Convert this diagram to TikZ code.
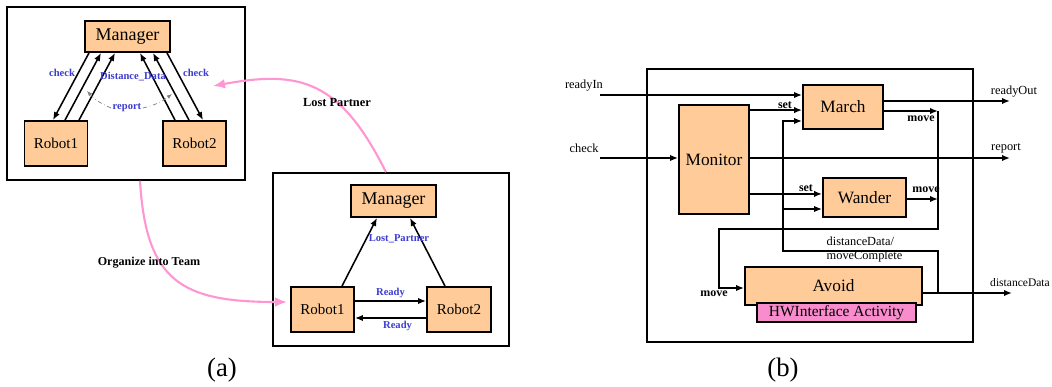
\documentclass[tikz,border=0pt]{standalone}
\usepackage{fontspec}
\setmainfont{Liberation Serif}
\usetikzlibrary{arrows.meta,calc}

\definecolor{peach}{RGB}{255,204,153}
\definecolor{hwpink}{RGB}{248,140,204}
\definecolor{flow}{RGB}{255,150,210}
\definecolor{tagblue}{RGB}{60,60,210}

\begin{document}
\begin{tikzpicture}[
  x=0.025cm, y=-0.025cm,
  box/.style={draw, line width=1.3pt, fill=peach, inner sep=0pt,
    font=\fontsize{12.3}{14}\selectfont},
  robot/.style={box, minimum width=1.575cm, minimum height=1.125cm,
    font=\fontsize{10.7}{12}\selectfont},
  panel/.style={draw, line width=1.1pt, inner sep=0pt},
  tag/.style={font=\bfseries\fontsize{7.5}{9}\selectfont, text=tagblue, inner sep=1pt},
  lbl/.style={font=\fontsize{8.8}{9.6}\selectfont, inner sep=1pt},
  blbl/.style={font=\bfseries\fontsize{8.5}{9.6}\selectfont, inner sep=1pt},
  sig/.style={line width=1.1pt, -{Latex[length=2mm,width=1.6mm]}},
  report/.style={draw=gray, dash dot, line width=0.5pt, -{Latex[length=1.3mm,width=1mm]}},
  pinkarrow/.style={draw=flow, line width=1.5pt, -{Latex[length=3mm,width=2.4mm]}},
]
  \useasboundingbox (0,0) rectangle (1052,387);

  % (a) team before and after a lost partner
  \node[panel, minimum width=5.95cm, minimum height=4.325cm] (teamA) at (126,93.5) {};
  \node[box, minimum width=2.125cm, minimum height=0.775cm,
    font=\fontsize{12.8}{14}\selectfont] (mgrA) at (127.5,36.5) {Manager};
  \node[robot] (rob1A) at (56,143.5) {Robot1};
  \node[robot] (rob2A) at (194.5,143.5) {Robot2};

  \draw[sig] ($(mgrA.south)+(-38.5,0)$) -- ($(rob1A.north)+(-3,0)$);
  \draw[sig] ($(rob1A.north)+(9,0)$) -- ($(mgrA.south)+(-26.5,0)$);
  \draw[sig] ($(rob1A.north)+(23,0)$) -- ($(mgrA.south)+(-12.5,0)$);
  \draw[sig] ($(rob2A.north)+(-19.5,0)$) -- ($(mgrA.south)+(12.5,0)$);
  \draw[sig] ($(rob2A.north)+(-5.5,0)$) -- ($(mgrA.south)+(25.5,0)$);
  \draw[sig] ($(mgrA.south)+(39.5,0)$) -- ($(rob2A.north)+(8.5,0)$);

  \node[tag] (chkL) at (62,73) {check};
  \node[tag] (chkR) at (196,73) {check};
  \node[tag] (distA) at (133,77) {Distance\_Data};
  \node[tag] (rep) at (127,108) {report};
  \coordinate (repL) at (87,91);
  \coordinate (repR) at (172,94);
  \draw[report] (rep.west) to[bend left=12] (repL);
  \draw[report] (rep.east) to[bend right=12] (repR);

  \node[panel, minimum width=5.9cm, minimum height=4.325cm] (teamB) at (391,259.5) {};
  \node[box, minimum width=2.125cm, minimum height=0.8cm,
    font=\fontsize{12.8}{14}\selectfont] (mgrB) at (393.5,201) {Manager};
  \node[robot] (rob1B) at (322.5,309.5) {Robot1};
  \node[robot, minimum width=1.6cm] (rob2B) at (459,309.5) {Robot2};

  \draw[sig] ($(rob1B.north)+(19.5,0)$) -- ($(mgrB.south)+(-16.5,0)$);
  \draw[sig] ($(rob2B.north)+(-14,0)$) -- ($(mgrB.south)+(16.5,0)$);
  \node[tag] (lostTag) at (399,239) {Lost\_Partner};
  \draw[sig] ($(rob1B.east)+(0,-8.5)$) -- ($(rob2B.west)+(0,-8.5)$)
    node[tag, midway, above=1pt] (readyTop) {Ready};
  \draw[sig] ($(rob2B.west)+(0,8.5)$) -- ($(rob1B.east)+(0,8.5)$)
    node[tag, midway, below=1pt, xshift=5pt] (readyBot) {Ready};

  \coordinate (lostEnd) at (213,86);
  \draw[pinkarrow] ($(teamB.north)+(-5,0)$) .. controls (340,80) and (300,70) .. (lostEnd);
  \node[font=\bfseries\fontsize{8.8}{10}\selectfont] (lostLbl) at (337,103) {Lost Partner};
  \draw[pinkarrow] ($(teamA.south)+(14,0)$) .. controls (146,282) and (182,302)
    .. ($(rob1B.west)+(-3,-7.5)$);
  \node[font=\bfseries\fontsize{8.6}{10}\selectfont] (orgLbl) at (149,263) {Organize into Team};

  \node[font=\fontsize{19}{22}\selectfont] (capA) at (222,370) {(a)};

  % (b) team activity
  \node[panel, minimum width=8.15cm, minimum height=6.825cm] (ctrl) at (810,205.5) {};
  \node[box, minimum width=1.75cm, minimum height=2.725cm] (monitor) at (714,159.5) {Monitor};
  \node[box, minimum width=2cm, minimum height=1.1cm] (march) at (843,107) {March};
  \node[box, minimum width=2.075cm, minimum height=0.975cm] (wander) at (864.5,197.5) {Wander};
  \node[box, minimum width=4.425cm, minimum height=0.95cm] (avoid) at (833.5,286) {Avoid};
  \node[box, fill=hwpink, minimum width=3.975cm, minimum height=0.475cm,
    font=\fontsize{11}{12}\selectfont] (hw) at (836.5,312.5) {HWInterface Activity};

  \coordinate (readyIn) at (600,95);
  \coordinate (checkIn) at (600,158);
  \node[lbl] (readyInLbl) at (584,86) {readyIn};
  \node[lbl] (checkLbl) at (584,148) {check};
  \draw[sig] (readyIn) -- (readyIn -| march.west);
  \draw[sig] (checkIn) -- (checkIn -| monitor.west);

  \coordinate (setM) at ($(monitor.north east)+(0,6)$);
  \coordinate (setW) at ($(monitor.south east)+(0,-21)$);
  \draw[sig] (setM) -- (setM -| march.west);
  \draw[sig] (setW) -- (setW -| wander.west);
  \node[blbl] (setMLbl) at (785,105) {set};
  \node[blbl] (setWLbl) at (806,188) {set};

  \coordinate (readyOut) at (1010,101);
  \coordinate (reportOut) at (1010,158);
  \draw[sig] (march.east |- readyOut) -- (readyOut);
  \draw[sig] (monitor.east |- reportOut) -- (reportOut);
  \node[lbl] (readyOutLbl) at (1014,92) {readyOut};
  \node[lbl] (reportLbl) at (1006,148) {report};

  \coordinate (moveBus) at (938,111);
  \coordinate (moveW) at (938,199);
  \coordinate (busLow) at (938,229);
  \coordinate (moveTurn) at (719,229);
  \coordinate (moveIn) at (719,288);
  \draw[sig] (march.east |- moveBus) -- (moveBus);
  \draw[sig] (wander.east |- moveW) -- (moveW);
  \draw[sig] (moveBus) -- (busLow) -- (moveTurn) -- (moveIn) -- (moveIn -| avoid.west);
  \node[blbl] (moveMLbl) at (921,119) {move};
  \node[blbl] (moveWLbl) at (926,190) {move};
  \node[blbl] (moveInLbl) at (714,294) {move};

  \coordinate (distOut) at (1012,293);
  \coordinate (fbUp) at (938,251);
  \coordinate (fbLeft) at (783,251);
  \coordinate (fbTop) at (783,121);
  \coordinate (fbW) at (783,209);
  \draw[sig] (avoid.east |- distOut) -- (distOut);
  \draw[sig] (distOut -| fbUp) -- (fbUp) -- (fbLeft) -- (fbTop) -- (fbTop -| march.west);
  \draw[sig] (fbW) -- (fbW -| wander.west);
  \node[lbl, font=\fontsize{8.2}{9.6}\selectfont] (distOutLbl) at (1020,283) {distanceData};
  \node[lbl, align=left, anchor=west] (fbLbl) at (825,249.5) {distanceData/\\moveComplete};

  \node[font=\fontsize{19}{22}\selectfont] (capB) at (783,370) {(b)};
\end{tikzpicture}
\end{document}
